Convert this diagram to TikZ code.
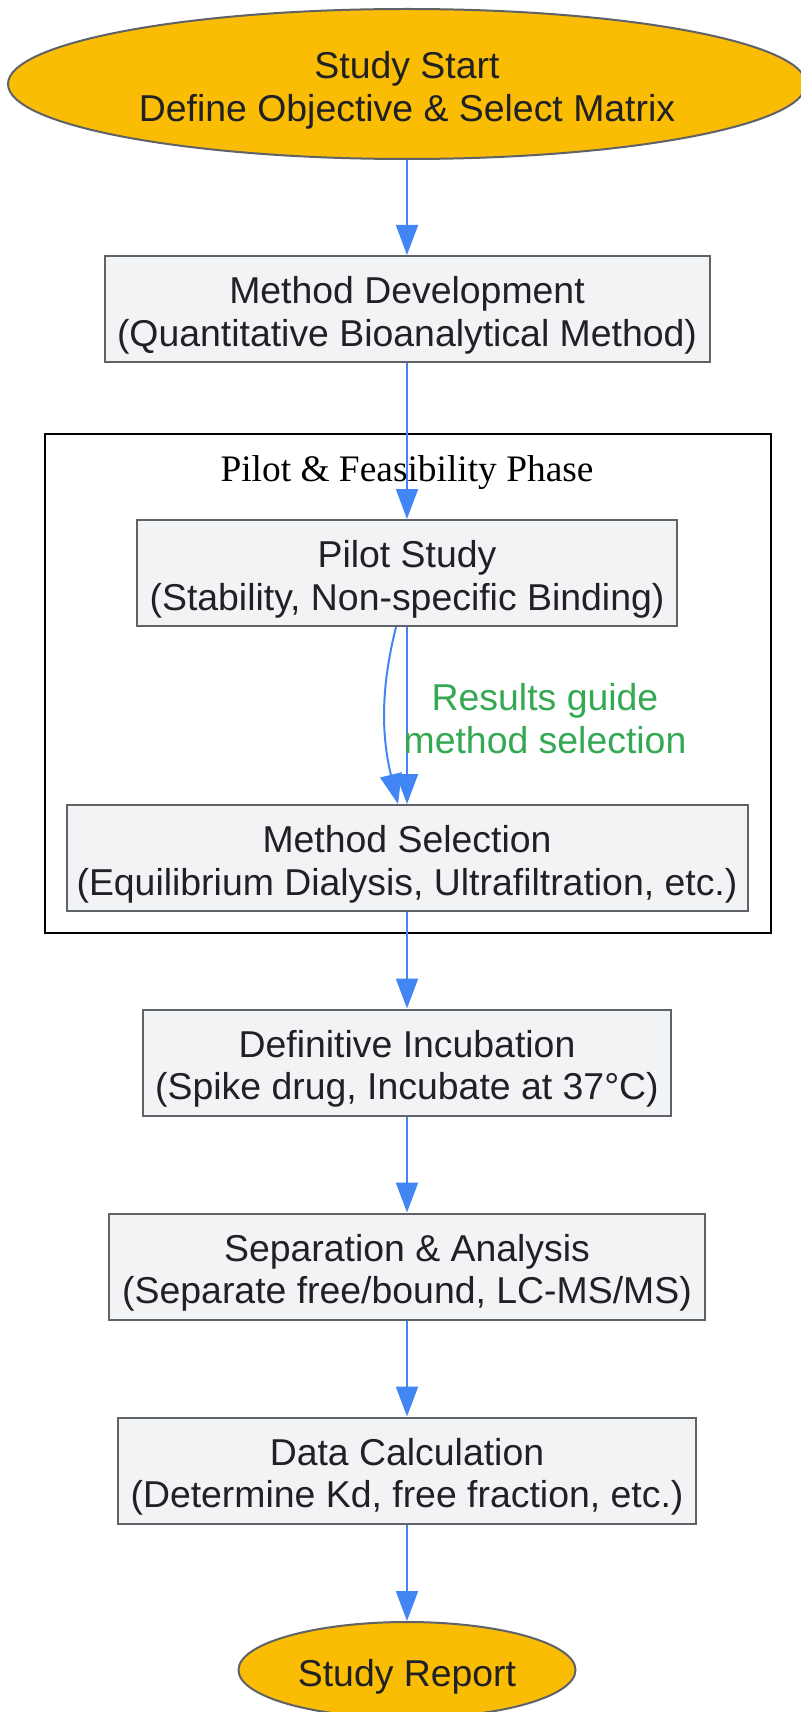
\documentclass[tikz,border=0pt]{standalone}
\usepackage{fontspec}
\setmainfont{Liberation Sans}
\newfontfamily\clusterfont{Liberation Serif}
\usetikzlibrary{arrows.meta,shapes.geometric}
\definecolor{gyellow}{HTML}{FBBC04}
\definecolor{gbox}{HTML}{F1F3F4}
\definecolor{gborder}{HTML}{5F6368}
\definecolor{gtext}{HTML}{202124}
\definecolor{gblue}{HTML}{4285F4}
\definecolor{ggreen}{HTML}{34A853}
\newcommand\tstrut{\rule{0pt}{40pt}}
\begin{document}
\begin{tikzpicture}[x=1pt,y=-1pt,
  every node/.style={font=\fontsize{37.4}{42.6}\selectfont, text=gtext},
  procbox/.style={draw=gborder, line width=2pt, fill=gbox, rectangle, align=center, inner sep=0pt, minimum height=106pt},
  termnode/.style={draw=gborder, line width=2pt, fill=gyellow, ellipse, align=center, inner sep=0pt},
  clusterbox/.style={draw=black, line width=2.5pt, fill=white, rectangle, inner sep=0pt},
  flow/.style={draw=gblue, line width=2pt, -{Triangle[length=30pt,width=22pt]}},
  flowlabel/.style={text=ggreen, align=center},
]
\useasboundingbox (0,0) rectangle (800,1712);
\fill[white] (0,0) rectangle (800,1712);

\node[clusterbox, minimum width=726pt, minimum height=499pt] (cl) at (408,683.5) {};
\node[text=black] (cltitle) at (407,472.5) {\clusterfont Pilot \& Feasibility Phase};

\node[termnode, minimum width=798pt, minimum height=150pt] (start) at (407,84) {\tstrut Study Start\\Define Objective \& Select Matrix};
\node[procbox, minimum width=605pt] (md) at (407,309) {\tstrut Method Development\\(Quantitative Bioanalytical Method)};
\node[procbox, minimum width=540pt] (ps) at (407,573) {\tstrut Pilot Study\\(Stability, Non-specific Binding)};
\node[procbox, minimum width=681pt] (ms) at (407,858) {\tstrut Method Selection\\(Equilibrium Dialysis, Ultrafiltration, etc.)};
\node[procbox, minimum width=528pt] (di) at (407,1062.5) {\tstrut Definitive Incubation\\(Spike drug, Incubate at 37°C)};
\node[procbox, minimum width=596pt] (sa) at (407,1266.5) {\tstrut Separation \& Analysis\\(Separate free/bound, LC-MS/MS)};
\node[procbox, minimum width=578pt] (dc) at (407,1470.5) {\tstrut Data Calculation\\(Determine Kd, free fraction, etc.)};
\node[termnode, minimum width=337pt, minimum height=96pt] (sr) at (407,1670) {\tstrut Study Report};

\draw[flow] (start) -- (md);
\draw[flow] (md) -- (ps);
\draw[flow] (ps) -- node[flowlabel, xshift=138pt, yshift=-3pt] (lbl) {Results guide\\method selection} (ms);
\draw[flow] ([xshift=-11pt]ps.south) .. controls ([xshift=-26pt,yshift=-60pt]ps.south) and ([xshift=-26pt,yshift=70pt]ms.north) .. ([xshift=-9pt]ms.north);
\draw[flow] (ms) -- (di);
\draw[flow] (di) -- (sa);
\draw[flow] (sa) -- (dc);
\draw[flow] (dc) -- (sr);
\end{tikzpicture}
\end{document}
